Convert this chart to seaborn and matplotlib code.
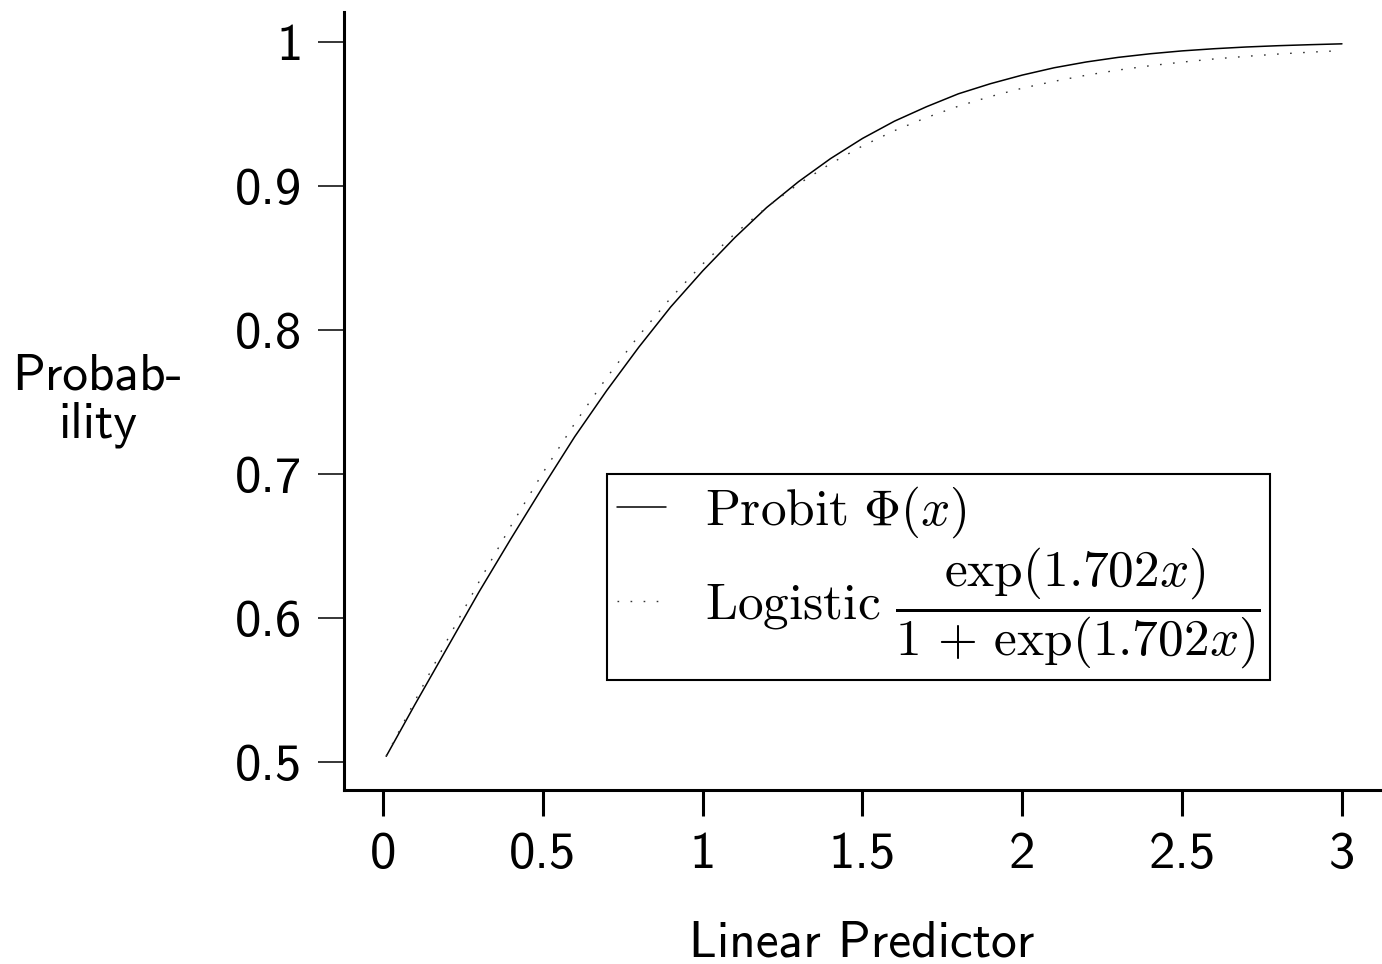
import matplotlib
matplotlib.use("Agg")
import matplotlib.pyplot as plt
import seaborn as sns
import pandas as pd

# values
x_vals = [0.01, 0.1, 0.2, 0.3, 0.4, 0.5, 0.6, 0.7, 0.8, 0.9, 1.0,
          1.1, 1.2, 1.3, 1.4, 1.5, 1.6, 1.7, 1.8, 1.9, 2.0,
          2.1, 2.2, 2.3, 2.4, 2.5, 2.6, 2.7, 2.8, 2.9, 3.0]
probit = [0.504, 0.540, 0.579, 0.618, 0.655, 0.691, 0.726, 0.758, 0.788, 0.816, 0.841,
          0.864, 0.885, 0.903, 0.919, 0.933, 0.945, 0.955, 0.964, 0.971, 0.977,
          0.9821, 0.9861, 0.9893, 0.9918, 0.9938, 0.9953, 0.9965, 0.9974, 0.9981, 0.9987]
logistic = [0.5043, 0.5425, 0.5843, 0.6250, 0.6639, 0.7008, 0.7352, 0.7670, 0.7960, 0.8222, 0.8458,
            0.8667, 0.8852, 0.9014, 0.9155, 0.9278, 0.9384, 0.9475, 0.9554, 0.9621, 0.9679,
            0.9727, 0.9769, 0.9805, 0.9835, 0.9860, 0.9882, 0.9900, 0.9916, 0.9929, 0.9940]

x_ticks = [0, 0.5, 1, 1.5, 2, 2.5, 3]
x_ticklabels = ["0", "0.5", "1", "1.5", "2", "2.5", "3"]
y_ticks = [0.5, 0.6, 0.7, 0.8, 0.9, 1.0]
y_ticklabels = ["0.5", "0.6", "0.7", "0.8", "0.9", "1"]

df = pd.DataFrame({"x": x_vals, "probit": probit, "logistic": logistic})

sns.set_style("ticks")
plt.rcParams["font.family"] = ["cmss10", "DejaVu Sans"]
plt.rcParams["mathtext.fontset"] = "cm"
plt.rcParams["axes.formatter.use_mathtext"] = True
plt.rcParams["text.color"] = "black"
plt.rcParams["axes.labelcolor"] = "black"

fig = plt.figure(figsize=(13.82, 9.64), dpi=100)
ax = fig.add_axes([344 / 1382, 1 - 790 / 964, 1036 / 1382, 778 / 964])

# Probit curve (solid) and logistic approximation (dotted)
sns.lineplot(data=df, x="x", y="probit", ax=ax, color="black", lw=1.1,
             label=r"$\mathrm{Probit}\ \Phi(x)$")
sns.lineplot(data=df, x="x", y="logistic", ax=ax, color="#333333", lw=1.0,
             linestyle=(0, (1.2, 8.2)),
             label=r"$\mathrm{Logistic}\ \dfrac{\exp(1.702x)}{1\,+\,\exp(1.702x)}$")

ax.set_xlim(-0.122, 3.119)
ax.set_ylim(0.4806, 1.0208)
ax.set_xticks(x_ticks)
ax.set_xticklabels(x_ticklabels)
ax.set_yticks(y_ticks)
ax.set_yticklabels(y_ticklabels)

for s in ["top", "right"]:
    ax.spines[s].set_visible(False)
for s in ["left", "bottom"]:
    ax.spines[s].set_linewidth(2.2)
    ax.spines[s].set_color("black")

ax.tick_params(axis="x", length=19, width=2.2, pad=11, labelsize=38, colors="black")
ax.tick_params(axis="y", length=19, width=1.1, pad=11, labelsize=38, colors="black")

ax.set_xlabel("Linear Predictor", fontsize=37, va="center", color="black")
ax.xaxis.set_label_coords(0.5, -0.197)
ax.set_ylabel("Probab-\nility", fontsize=37, rotation=0, ha="center", va="center",
              multialignment="center", linespacing=1.05, color="black")
ax.yaxis.set_label_coords(-0.238, 0.50)

leg = ax.legend(loc="upper left", bbox_to_anchor=(607 / 1382, 1 - 474 / 964),
                bbox_transform=fig.transFigure, borderaxespad=0, fontsize=37,
                frameon=True, fancybox=False, framealpha=1, edgecolor="black",
                handlelength=0.95, handletextpad=0.75, borderpad=0.2,
                labelspacing=0.1)
leg.get_frame().set_linewidth(1.5)
for t in leg.get_texts():
    t.set_color("black")

fig.savefig("out.png", dpi=100)
